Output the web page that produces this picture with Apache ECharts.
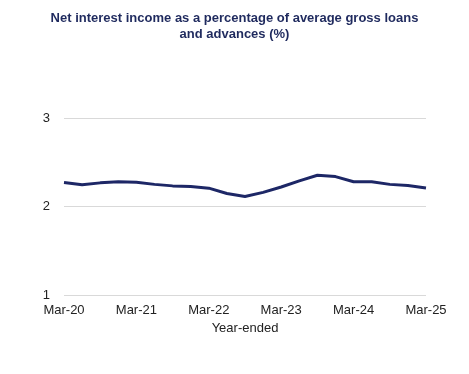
<!DOCTYPE html>
<html><head><meta charset="utf-8">
<script src="https://cdn.jsdelivr.net/npm/echarts@6/dist/echarts.min.js"></script>
<style>html,body{margin:0;padding:0;background:#fff}#c{width:469px;height:374px}</style>
</head><body><div id="c"></div>
<script>
const categories = ["Mar-20","Jun-20","Sep-20","Dec-20","Mar-21","Jun-21","Sep-21","Dec-21","Mar-22","Jun-22","Sep-22","Dec-22","Mar-23","Jun-23","Sep-23","Dec-23","Mar-24","Jun-24","Sep-24","Dec-24","Mar-25"];
const values = [2.27,2.245,2.267,2.28,2.274,2.25,2.233,2.226,2.207,2.147,2.113,2.16,2.22,2.29,2.353,2.338,2.28,2.28,2.25,2.237,2.21];
const yTicks = [1,2,3];
const chart = echarts.init(document.getElementById('c'));
chart.setOption({
  animation:false,
  title:{text:'Net interest income as a percentage of average gross loans\nand advances (%)',left:'center',top:5,
    textStyle:{fontFamily:'Liberation Sans',fontSize:13,fontWeight:'bold',color:'#1F2A5E',lineHeight:16}},
  grid:{left:64,right:43,top:118,bottom:79},
  xAxis:{type:'category',data:categories,boundaryGap:false,
    axisLine:{show:false},axisTick:{show:false},
    axisLabel:{interval:3,color:'#222',fontFamily:'Liberation Sans',fontSize:13,margin:9},
    name:'Year-ended',nameLocation:'middle',nameGap:27,
    nameTextStyle:{color:'#222',fontFamily:'Liberation Sans',fontSize:13}},
  yAxis:{type:'value',min:yTicks[0],max:yTicks[yTicks.length-1],interval:1,
    axisLine:{show:false},axisTick:{show:false},
    axisLabel:{color:'#222',fontFamily:'Liberation Sans',fontSize:13,margin:14},
    splitLine:{lineStyle:{color:'#d9d9d9',width:1}}},
  series:[{type:'line',data:values,symbol:'none',smooth:false,
    lineStyle:{color:'#1D2766',width:3}}]
});
</script></body></html>
